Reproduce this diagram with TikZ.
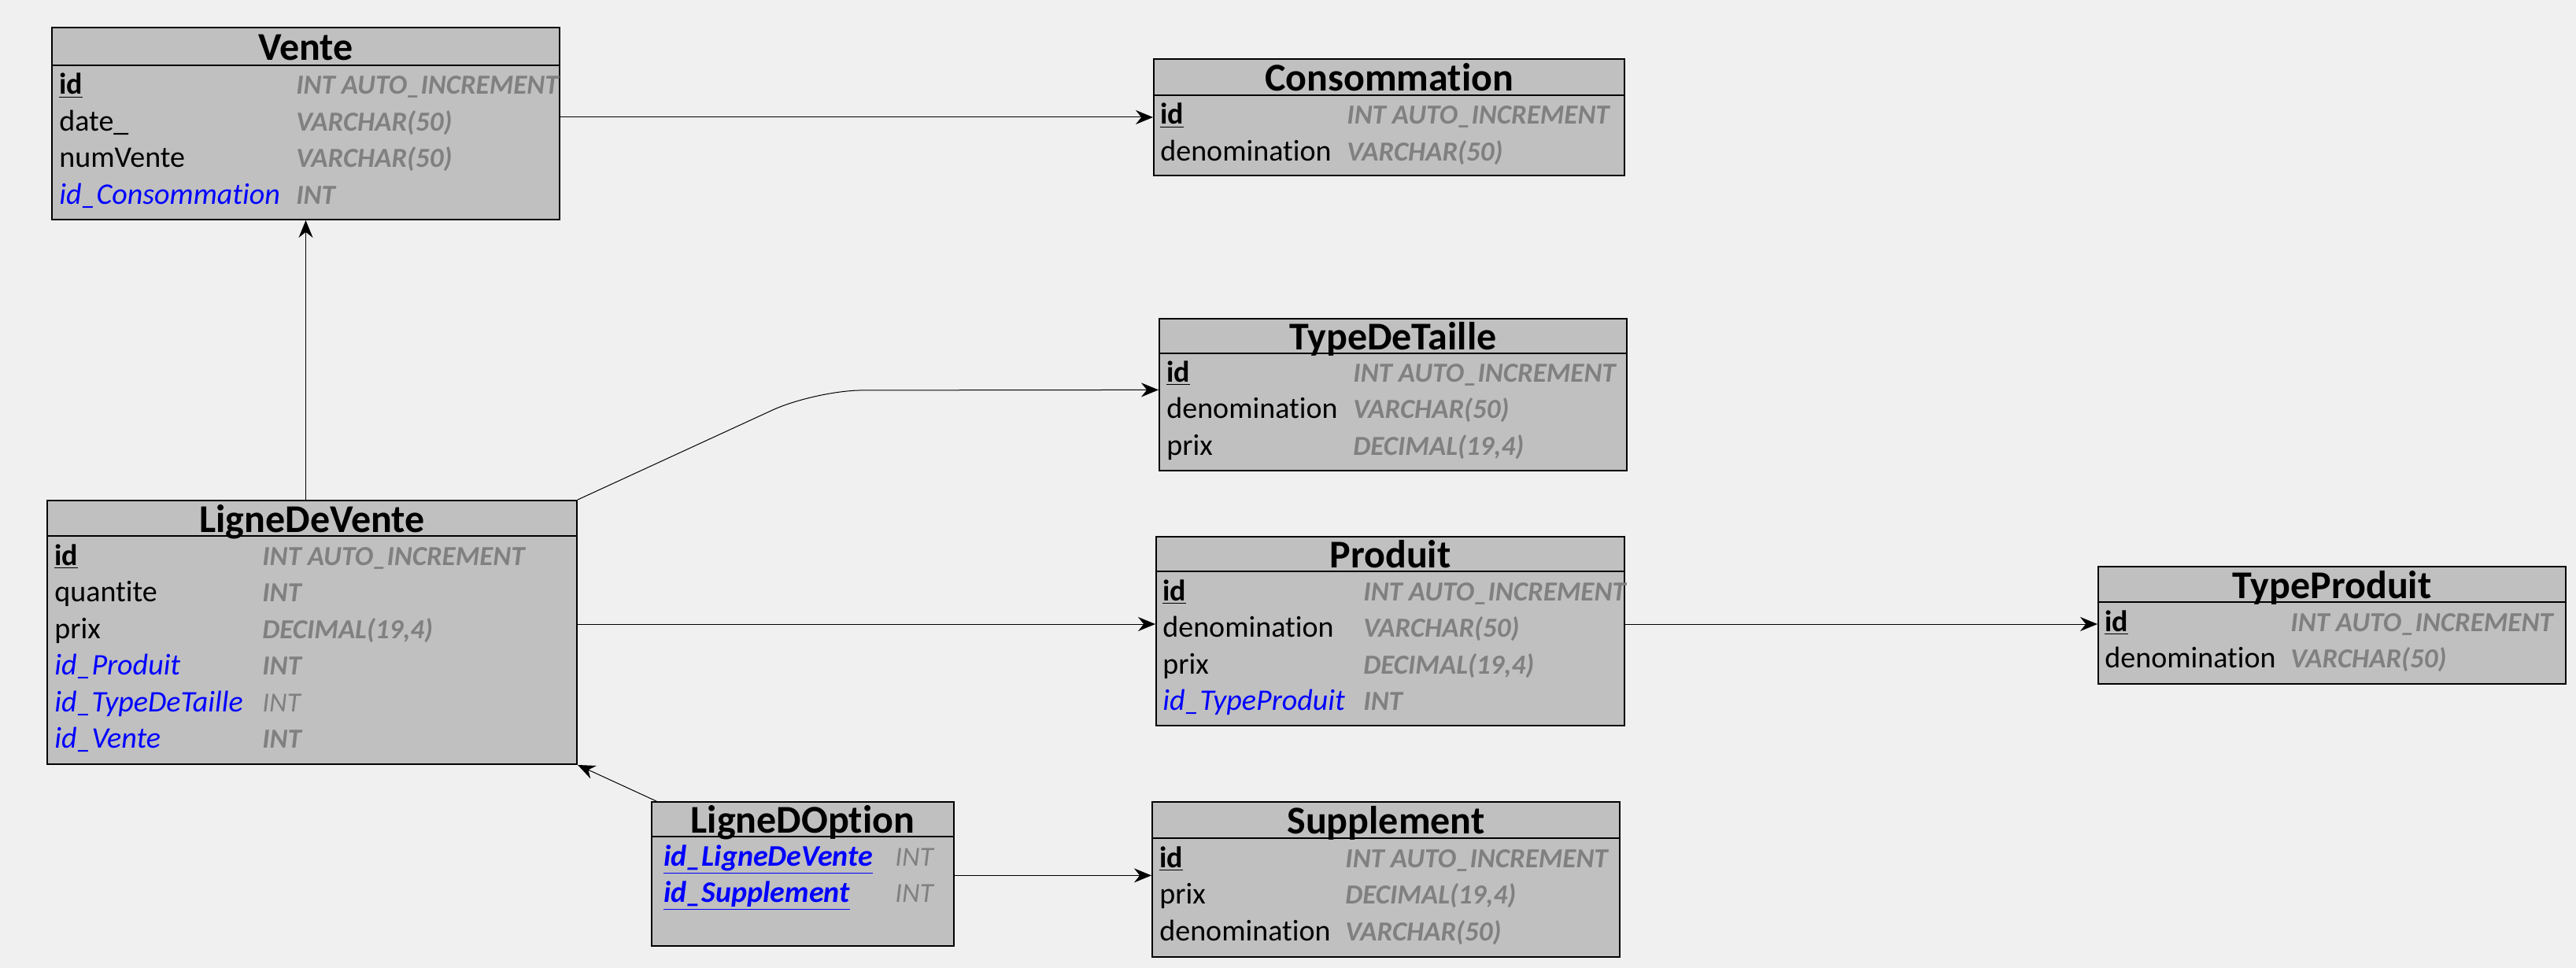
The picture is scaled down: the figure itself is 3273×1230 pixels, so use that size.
\documentclass[tikz,border=0pt]{standalone}
\usepackage{fontspec}
\setmainfont{Carlito}[Ligatures=NoCommon]
\usepackage{xcolor}
\usetikzlibrary{arrows.meta, positioning, fit, calc}

\definecolor{bgcol}{HTML}{F0F0F0}
\definecolor{tblgray}{HTML}{C0C0C0}
\definecolor{typgray}{HTML}{808080}
\definecolor{fkblue}{HTML}{0000FF}

\tikzset{
  tbl/.style={draw=black, line width=1pt, fill=tblgray, inner sep=0pt},
  ttl/.style={inner sep=0pt, font=\fontsize{25}{30}\selectfont\bfseries, text height=17.5pt, text depth=0pt},
  fld/.style={anchor=base west, inner sep=0pt, text height=14pt, text depth=5pt, font=\fontsize{19}{23}\selectfont},
  pk/.style={fld, font=\fontsize{19}{23}\selectfont\bfseries},
  fk/.style={fld, text=fkblue, font=\fontsize{19}{23}\selectfont\itshape},
  pfk/.style={fld, text=fkblue, font=\fontsize{19}{23}\selectfont\bfseries\itshape},
  typ/.style={fld, text=typgray, font=\fontsize{17.5}{21}\selectfont\bfseries\itshape},
  typl/.style={fld, text=typgray, font=\fontsize{17.5}{21}\selectfont\itshape},
  link/.style={-{Stealth[length=11pt, width=9pt]}, line width=0.5pt}
}

\begin{document}
\begin{tikzpicture}[x=0.5pt, y=-0.5pt]
    \fill[bgcol] (0,0) rectangle (3273,1230);
    \useasboundingbox (0,0) rectangle (3273,1230);

    % Vente
    \node[tbl, fit={(66,35) (711,83)}] (venteH) {};
    \node[tbl, fit={(66,83) (711,279)}] (venteB) {};
    \node[ttl] (venteT) at (venteH.center) {Vente};
    \node[pk] (venteR1) at (75,120) {\underline{id}};
    \node[typ] (venteR1t) at (376,120) {INT AUTO\_INCREMENT};
    \node[fld] (venteR2) at (75,166.5) {date\_};
    \node[typ] (venteR2t) at (376,166.5) {VARCHAR(50)};
    \node[fld] (venteR3) at (75,213) {numVente};
    \node[typ] (venteR3t) at (376,213) {VARCHAR(50)};
    \node[fk] (venteR4) at (75,259.5) {id\_Consommation};
    \node[typ] (venteR4t) at (376,259.5) {INT};

    % Consommation
    \node[tbl, fit={(1466,75) (2064,121)}] (consH) {};
    \node[tbl, fit={(1466,121) (2064,223)}] (consB) {};
    \node[ttl] (consT) at (consH.center) {Consommation};
    \node[pk] (consR1) at (1474,158) {\underline{id}};
    \node[typ] (consR1t) at (1711,158) {INT AUTO\_INCREMENT};
    \node[fld] (consR2) at (1474,204.5) {denomination};
    \node[typ] (consR2t) at (1711,204.5) {VARCHAR(50)};

    % TypeDeTaille
    \node[tbl, fit={(1473,405) (2067,449)}] (tdtH) {};
    \node[tbl, fit={(1473,449) (2067,598)}] (tdtB) {};
    \node[ttl] (tdtT) at (tdtH.center) {TypeDeTaille};
    \node[pk] (tdtR1) at (1482,485) {\underline{id}};
    \node[typ] (tdtR1t) at (1719,485) {INT AUTO\_INCREMENT};
    \node[fld] (tdtR2) at (1482,531.5) {denomination};
    \node[typ] (tdtR2t) at (1719,531.5) {VARCHAR(50)};
    \node[fld] (tdtR3) at (1482,578) {prix};
    \node[typ] (tdtR3t) at (1719,578) {DECIMAL(19,4)};

    % Produit
    \node[tbl, fit={(1469,682) (2064,726)}] (prodH) {};
    \node[tbl, fit={(1469,726) (2064,922)}] (prodB) {};
    \node[ttl] (prodT) at (prodH.center) {Produit};
    \node[pk] (prodR1) at (1477,763) {\underline{id}};
    \node[typ] (prodR1t) at (1732,763) {INT AUTO\_INCREMENT};
    \node[fld] (prodR2) at (1477,809.5) {denomination};
    \node[typ] (prodR2t) at (1732,809.5) {VARCHAR(50)};
    \node[fld] (prodR3) at (1477,856) {prix};
    \node[typ] (prodR3t) at (1732,856) {DECIMAL(19,4)};
    \node[fk] (prodR4) at (1477,902.5) {id\_TypeProduit};
    \node[typ] (prodR4t) at (1732,902.5) {INT};

    % TypeProduit
    \node[tbl, fit={(2666,720) (3260,765)}] (tpH) {};
    \node[tbl, fit={(2666,765) (3260,869)}] (tpB) {};
    \node[ttl] (tpT) at (tpH.center) {TypeProduit};
    \node[pk] (tpR1) at (2674,802) {\underline{id}};
    \node[typ] (tpR1t) at (2910,802) {INT AUTO\_INCREMENT};
    \node[fld] (tpR2) at (2674,848.5) {denomination};
    \node[typ] (tpR2t) at (2910,848.5) {VARCHAR(50)};

    % LigneDeVente
    \node[tbl, fit={(60,636) (733,681)}] (ldvH) {};
    \node[tbl, fit={(60,681) (733,971)}] (ldvB) {};
    \node[ttl] (ldvT) at (ldvH.center) {LigneDeVente};
    \node[pk] (ldvR1) at (69,718) {\underline{id}};
    \node[typ] (ldvR1t) at (333,718) {INT AUTO\_INCREMENT};
    \node[fld] (ldvR2) at (69,764.5) {quantite};
    \node[typ] (ldvR2t) at (333,764.5) {INT};
    \node[fld] (ldvR3) at (69,811) {prix};
    \node[typ] (ldvR3t) at (333,811) {DECIMAL(19,4)};
    \node[fk] (ldvR4) at (69,857.5) {id\_Produit};
    \node[typ] (ldvR4t) at (333,857.5) {INT};
    \node[fk] (ldvR5) at (69,904) {id\_TypeDeTaille};
    \node[typl] (ldvR5t) at (333,904) {INT};
    \node[fk] (ldvR6) at (69,950.5) {id\_Vente};
    \node[typ] (ldvR6t) at (333,950.5) {INT};

    % LigneDOption
    \node[tbl, fit={(828,1019) (1212,1063)}] (ldoH) {};
    \node[tbl, fit={(828,1063) (1212,1202)}] (ldoB) {};
    \node[ttl] (ldoT) at (ldoH.center) {LigneDOption};
    \node[pfk] (ldoR1) at (843,1100) {\underline{id\_LigneDeVente}};
    \node[typl] (ldoR1t) at (1137,1100) {INT};
    \node[pfk] (ldoR2) at (843,1146.5) {\underline{id\_Supplement}};
    \node[typl] (ldoR2t) at (1137,1146.5) {INT};

    % Supplement
    \node[tbl, fit={(1464,1019) (2058,1065)}] (supH) {};
    \node[tbl, fit={(1464,1065) (2058,1216)}] (supB) {};
    \node[ttl] (supT) at (supH.center) {Supplement};
    \node[pk] (supR1) at (1473,1102) {\underline{id}};
    \node[typ] (supR1t) at (1709,1102) {INT AUTO\_INCREMENT};
    \node[fld] (supR2) at (1473,1148.5) {prix};
    \node[typ] (supR2t) at (1709,1148.5) {DECIMAL(19,4)};
    \node[fld] (supR3) at (1473,1195) {denomination};
    \node[typ] (supR3t) at (1709,1195) {VARCHAR(50)};

    % links
    \coordinate (prodIn) at ($(prodB.west |- prodR2)+(0,-7.5)$);
    \draw[link] (venteB.east |- consR1) -- (consB.west |- consR1);
    \draw[link] (ldvH.north -| venteB.south) -- (venteB.south);
    \draw[link, rounded corners=30pt] (ldvH.north east) -- ++(302,-139) -- (tdtB.west |- tdtR1.south);
    \draw[link] (ldvB.east |- prodIn) -- (prodIn);
    \draw[link] (prodB.east |- tpR1) -- (tpB.west |- tpR1);
    \draw[link] ([xshift=3.5pt]ldoH.north west) -- (ldvB.south east);
    \draw[link] (ldoB.east |- supR1.south) -- (supB.west |- supR1.south);
\end{tikzpicture}
\end{document}
